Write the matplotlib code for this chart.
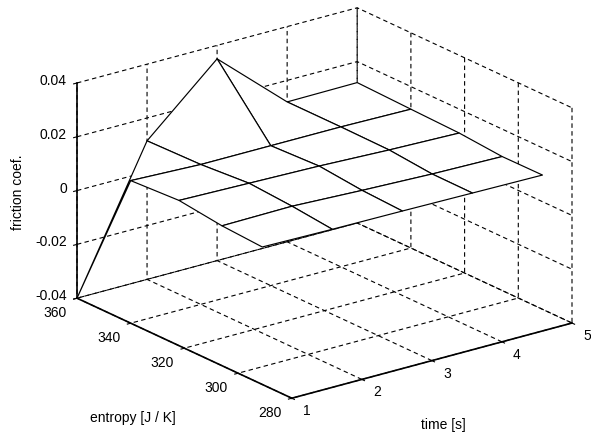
import numpy as np
import matplotlib.pyplot as plt
from mpl_toolkits.mplot3d import proj3d

# mesh data: rows = entropy, columns = time
time = [1, 2, 3, 4, 5]
entropy = [360, 340, 322, 306, 291]
friction = [
    [-0.0400, 0.0115, 0.0350, 0.0120, 0.0122],
    [0.0130, 0.0120, 0.0120, 0.0120, 0.0116],
    [0.0140, 0.0134, 0.0128, 0.0118, 0.0111],
    [0.0120, 0.0123, 0.0112, 0.0103, 0.0098],
    [0.0111, 0.0107, 0.0105, 0.0102, 0.0099],
]

time_ticks = [1, 2, 3, 4, 5]
entropy_ticks = [280, 300, 320, 340, 360]
friction_ticks = [-0.04, -0.02, 0, 0.02, 0.04]
friction_labels = ['-0.04', '-0.02', '0', '0.02', '0.04']

plt.rcParams['font.family'] = ['Liberation Sans', 'DejaVu Sans']
plt.rcParams['font.size'] = 10
plt.rcParams['grid.color'] = 'black'
plt.rcParams['grid.linewidth'] = 0.8
plt.rcParams['grid.linestyle'] = (0, (4, 3))

W, H = 591, 436
fig = plt.figure(figsize=(W / 100, H / 100), dpi=100)
ax = fig.add_subplot(projection='3d', proj_type='ortho')
ax.view_init(elev=20.7, azim=-127.2)
ax.set_box_aspect((1, 1.01, 0.654))

T, E = np.meshgrid(time, entropy)
Z = np.array(friction)
ax.plot_surface(T, E, Z, color='white', edgecolor='black', linewidth=0.85,
                shade=False, antialiased=True)

ax.set_xlim(1, 5)
ax.set_ylim(280, 360)
ax.set_zlim(-0.04, 0.04)
ax.set_xticks(time_ticks)
ax.set_yticks(entropy_ticks)
ax.set_zticks(friction_ticks)
ax.set_xticklabels([])
ax.set_yticklabels([])
ax.set_zticklabels([])

for axis in (ax.xaxis, ax.yaxis, ax.zaxis):
    axis.set_pane_color((1, 1, 1, 0))
    axis.pane.set_edgecolor('none')
    axis.line.set_color('black')
    axis.line.set_linewidth(1.2)
    axis._axinfo['tick']['inward_factor'] = 0.15
    axis._axinfo['tick']['outward_factor'] = 0.0
    axis._axinfo['tick']['color'] = 'black'


def to_px(x, y, z):
    px, py, _ = proj3d.proj_transform(np.asarray(x, float), np.asarray(y, float),
                                      np.asarray(z, float), ax.get_proj())
    return ax.transData.transform(np.column_stack([px, py]))


# fit the projected box onto the reference pixel box
fig.canvas.draw()
cx, cy, cz = np.array([(x, y, z) for x in (1, 5) for y in (280, 360)
                       for z in (-0.04, 0.04)]).T
pts = to_px(cx, cy, cz)
bb = ax.bbox
S0 = bb.width
c0 = np.array([bb.x0 + bb.width / 2, bb.y0 + bb.height / 2])
u = (pts - c0) / S0
tx0, tx1, ty0, ty1 = 77, 572, H - 398, H - 8
S1 = (tx1 - tx0) / (u[:, 0].max() - u[:, 0].min())
uc = np.array([(u[:, 0].max() + u[:, 0].min()) / 2, (u[:, 1].max() + u[:, 1].min()) / 2])
c1 = np.array([(tx0 + tx1) / 2, (ty0 + ty1) / 2]) - S1 * uc
ax.set_position([(c1[0] - S1 / 2) / W, (c1[1] - S1 / 2) / H, S1 / W, S1 / H])
fig.canvas.draw()

# tick labels placed next to the projected tick positions
n = len(entropy_ticks)
for (x, y), v in zip(to_px([1] * n, entropy_ticks, [-0.04] * n), entropy_ticks):
    fig.text((x - 22) / W, (y - 15) / H, str(v), ha='center', va='center')
n = len(time_ticks)
for (x, y), v in zip(to_px(time_ticks, [280] * n, [-0.04] * n), time_ticks):
    fig.text((x + 15) / W, (y - 13) / H, str(v), ha='center', va='center')
n = len(friction_ticks)
for (x, y), s in zip(to_px([1] * n, [360] * n, friction_ticks), friction_labels):
    fig.text((x - 10) / W, (y + 2) / H, s, ha='right', va='center')

fig.text(18 / W, 1 - 192 / H, 'friction coef.', rotation=90, ha='center', va='center')
fig.text(133 / W, 1 - 418 / H, 'entropy [J / K]', ha='center', va='center')
fig.text(443 / W, 1 - 425 / H, 'time [s]', ha='center', va='center')

fig.savefig('out.png', dpi=100)
